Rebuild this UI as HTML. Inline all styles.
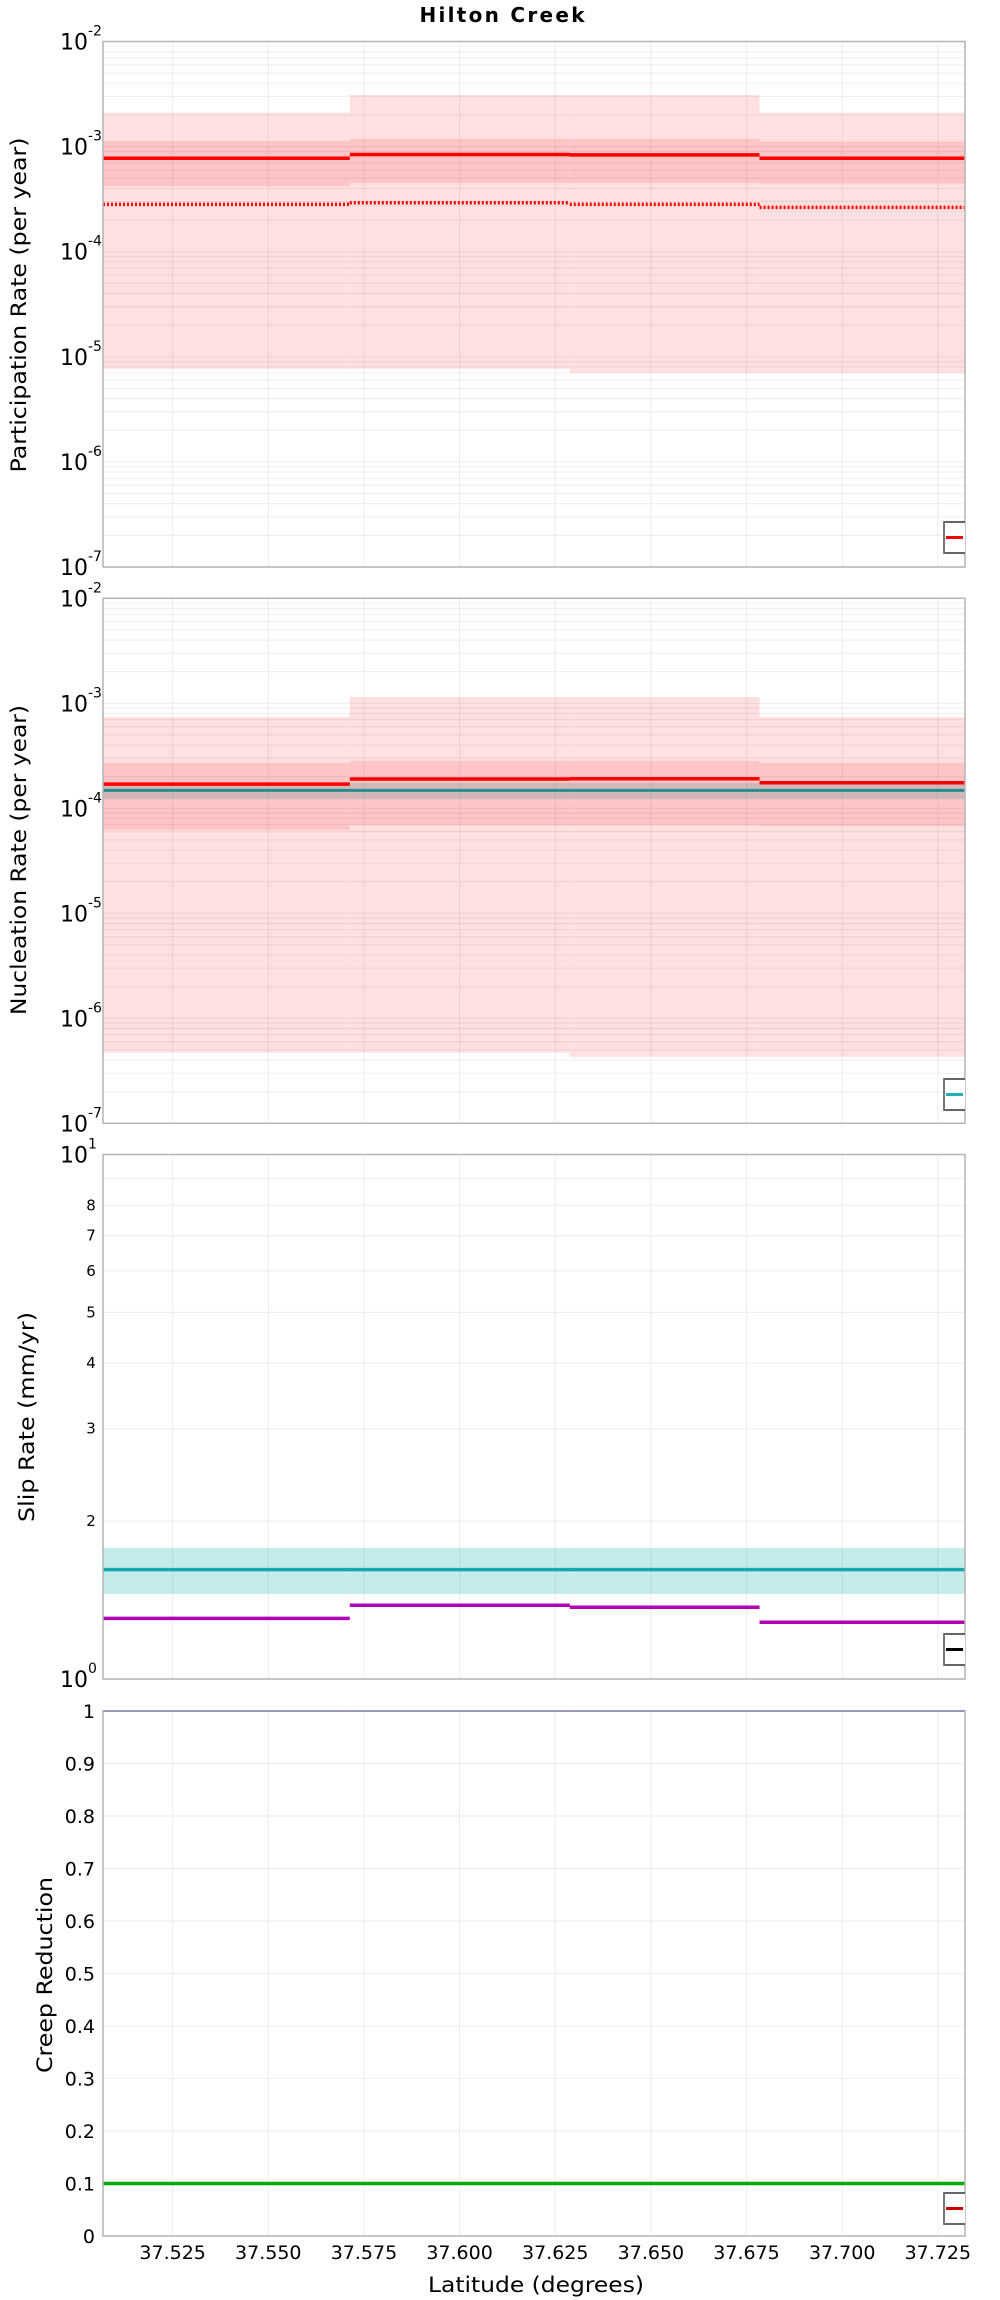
<!DOCTYPE html>
<html><head><meta charset="utf-8"><title>Hilton Creek</title>
<style>html,body{margin:0;padding:0;background:#fff}svg{display:block}text{font-family:"DejaVu Sans","Liberation Sans",sans-serif;fill:#000}</style>
</head><body>
<svg id="chart" width="1000" height="2300" viewBox="0 0 1000 2300" xmlns="http://www.w3.org/2000/svg">
<defs><clipPath id="plotclip"><rect x="0" y="0" width="965" height="2300"/></clipPath></defs>
<text x="502" y="22" text-anchor="middle" font-size="20" font-weight="bold" textLength="165">Hilton Creek</text>
</svg>
<script>
// ---- data ----
const segEdges = [37.5068, 37.5713, 37.6288, 37.6784, 37.7321];
const xTicks = [37.525, 37.550, 37.575, 37.600, 37.625, 37.650, 37.675, 37.700, 37.725];
const xTickLabels = ["37.525","37.550","37.575","37.600","37.625","37.650","37.675","37.700","37.725"];
// participation
const partOuterHi = [2.1e-3, 3.1e-3, 3.1e-3, 2.1e-3];
const partOuterLo = [7.7e-6, 7.7e-6, 7.0e-6, 7.0e-6];
const partInnerHi = [1.13e-3, 1.18e-3, 1.18e-3, 1.12e-3];
const partInnerLo = [4.2e-4, 4.5e-4, 4.5e-4, 4.45e-4];
const partMean = [7.75e-4, 8.4e-4, 8.35e-4, 7.75e-4];
const partDotted = [2.82e-4, 2.92e-4, 2.82e-4, 2.64e-4];
// nucleation
const nucOuterHi = [7.4e-4, 1.15e-3, 1.15e-3, 7.4e-4];
const nucOuterLo = [4.7e-7, 4.7e-7, 4.3e-7, 4.3e-7];
const nucInnerHi = [2.7e-4, 2.83e-4, 2.83e-4, 2.7e-4];
const nucInnerLo = [6.2e-5, 6.9e-5, 6.9e-5, 6.8e-5];
const nucMean = [1.7e-4, 1.9e-4, 1.91e-4, 1.75e-4];
const nucTarget = [1.48e-4, 1.48e-4, 1.48e-4, 1.48e-4];
const nucTargetHi = [1.74e-4, 1.74e-4, 1.74e-4, 1.74e-4];
const nucTargetLo = [1.22e-4, 1.22e-4, 1.22e-4, 1.22e-4];
// slip
const slipTarget = [1.616, 1.616, 1.616, 1.616];
const slipTargetHi = [1.778, 1.778, 1.778, 1.778];
const slipTargetLo = [1.453, 1.453, 1.453, 1.453];
const slipSolution = [1.305, 1.382, 1.370, 1.283];
const slipTickVals = [2,3,4,5,6,7,8];
// creep
const creepOne = [1, 1, 1, 1];
const creepGreen = [0.1, 0.1, 0.1, 0.1];
const creepTicks = [0,0.1,0.2,0.3,0.4,0.5,0.6,0.7,0.8,0.9,1];
const creepTickLabels = ["0","0.1","0.2","0.3","0.4","0.5","0.6","0.7","0.8","0.9","1"];

const NS = "http://www.w3.org/2000/svg";
const svg = document.getElementById('chart');
const L = 103, R = 965;
const xmin = segEdges[0], xmax = segEdges[segEdges.length-1];
function xs(v){ return L + (v - xmin) / (xmax - xmin) * (R - L); }
function mk(tag, attrs, parent){ const e = document.createElementNS(NS, tag); for (const k in attrs) e.setAttribute(k, attrs[k]); (parent||svg).appendChild(e); return e; }

function logScale(top, bot, lo, hi){ return v => bot - (Math.log10(v) - lo) / (hi - lo) * (bot - top); }
function linScale(top, bot, lo, hi){ return v => bot - (v - lo) / (hi - lo) * (bot - top); }

function band(g, ys, his, los, fill, name){
  for (let i = 0; i < 4; i++){
    const y1 = ys(his[i]), y2 = ys(los[i]);
    const r = mk('rect', {x: xs(segEdges[i]), y: y1, width: xs(segEdges[i+1]) - xs(segEdges[i]), height: y2 - y1, fill: fill}, g);
    
    
  }
}
function steps(g, ys, vals, color, w, dash, name){
  let d = '';
  for (let i = 0; i < 4; i++){
    const y = ys(vals[i]);
    d += 'M' + xs(segEdges[i]) + ' ' + y + ' L' + xs(segEdges[i+1]) + ' ' + y + ' ';
  }
  const p = mk('path', {d: d, stroke: color, 'stroke-width': w, fill: 'none'}, g);
  if (dash) p.setAttribute('stroke-dasharray', dash);
  
  
}
function vgrid(g, top, bot){
  xTicks.forEach(t => { mk('line', {x1: xs(t), x2: xs(t), y1: top, y2: bot, stroke: 'rgba(0,0,0,0.07)', 'stroke-width': 1}, g); });
}
function frame(g, top, bot){
  mk('rect', {x: L, y: top, width: R - L, height: bot - top, fill: 'none', stroke: '#b4b4b4', 'stroke-width': 1.5}, g);
}
function legend(g, y, color, name){
  const lg = mk('g', {'clip-path': 'url(#plotclip)'}, g);
  
  
  mk('rect', {x: 944, y: y, width: 30, height: 31, fill: '#fff', stroke: '#333', 'stroke-width': 1.5}, lg);
  mk('line', {x1: 944, x2: 944, y1: y, y2: y + 31, stroke: '#777', 'stroke-width': 2}, lg);
  mk('line', {x1: 946, x2: 963, y1: y + 15.5, y2: y + 15.5, stroke: color, 'stroke-width': 3}, lg);
}
function ytitle(g, x, cy, text, len, name){
  const t = mk('text', {x: x, y: cy, transform: 'rotate(-90 ' + x + ' ' + cy + ')', 'text-anchor': 'middle', 'font-size': 21, textLength: len, lengthAdjust: 'spacingAndGlyphs'}, g);
  t.textContent = text;
  
  
}
function logPanel(top, bot, lo, hi, name){
  const g = mk('g', {});
  
  
  const ys = logScale(top, bot, lo, hi);
  return {g, ys};
}
function logGrid(g, ys, lo, hi, top, bot){
  for (let e = lo; e < hi; e++){
    for (let m = 1; m <= 9; m++){
      const y = ys(m * Math.pow(10, e));
      mk('line', {x1: L, x2: R, y1: y, y2: y, stroke: 'rgba(0,0,0,0.06)', 'stroke-width': 1.2}, g);
    }
  }
  vgrid(g, top, bot);
}
function logLabels(g, ys, lo, hi){
  for (let e = lo; e <= hi; e++){
    const y = ys(Math.pow(10, e));
    const t = mk('text', {x: 60, y: y + 8, 'font-size': 22}, g);
    t.textContent = '10';
    
    
    const s = mk('text', {x: 88, y: y - 6, 'font-size': 14}, g);
    s.textContent = String(e);
    
    
  }
}

// Panel 1: participation
(function(){
  const top = 41.5, bot = 567;
  const {g, ys} = logPanel(top, bot, -7, -2, 'participation-panel');
  band(g, ys, partOuterHi, partOuterLo, '#fee0e0', 'participation-outer-band');
  band(g, ys, partInnerHi, partInnerLo, '#fdc5c5', 'participation-inner-band');
  logGrid(g, ys, -7, -2, top, bot);
  steps(g, ys, partMean, '#ff0000', 3.5, null, 'participation-mean-line');
  steps(g, ys, partDotted, '#ff0000', 3.5, '2 2', 'participation-dotted-line');
  frame(g, top, bot);
  logLabels(g, ys, -7, -2);
  ytitle(g, 26, 305, 'Participation Rate (per year)', 335, 'participation-y-title');
  legend(g, 522, '#ff0000', 'participation-legend');
})();

// Panel 2: nucleation
(function(){
  const top = 598.3, bot = 1123.3;
  const {g, ys} = logPanel(top, bot, -7, -2, 'nucleation-panel');
  band(g, ys, nucOuterHi, nucOuterLo, '#fee0e0', 'nucleation-outer-band');
  band(g, ys, nucInnerHi, nucInnerLo, '#fdc5c5', 'nucleation-inner-band');
  band(g, ys, nucTargetHi, nucTargetLo, '#d0b8b8', 'nucleation-target-band');
  logGrid(g, ys, -7, -2, top, bot);
  steps(g, ys, nucMean, '#ff0000', 3.5, null, 'nucleation-mean-line');
  steps(g, ys, nucTarget, '#2a8d8d', 3, null, 'nucleation-target-line');
  frame(g, top, bot);
  logLabels(g, ys, -7, -2);
  ytitle(g, 26, 860, 'Nucleation Rate (per year)', 310, 'nucleation-y-title');
  legend(g, 1079, '#20b2b2', 'nucleation-legend');
})();

// Panel 3: slip rate
(function(){
  const top = 1154.5, bot = 1679;
  const {g, ys} = logPanel(top, bot, 0, 1, 'slip-rate-panel');
  band(g, ys, slipTargetHi, slipTargetLo, '#c3eceb', 'slip-target-band');
  logGrid(g, ys, 0, 1, top, bot);
  steps(g, ys, slipTarget, '#1aa9a9', 3.5, null, 'slip-target-line');
  steps(g, ys, slipSolution, '#b400b4', 3.5, null, 'slip-solution-line');
  frame(g, top, bot);
  logLabels(g, ys, 0, 1);
  slipTickVals.forEach(v => {
    const t = mk('text', {x: 91, y: ys(v) + 5, 'font-size': 15, 'text-anchor': 'middle'}, g);
    t.textContent = String(v);
    
    
  });
  ytitle(g, 34, 1417, 'Slip Rate (mm/yr)', 210, 'slip-y-title');
  legend(g, 1634, '#000000', 'slip-legend');
})();

// Panel 4: creep reduction
(function(){
  const top = 1711, bot = 2236;
  const g = mk('g', {});
  
  
  const ys = linScale(top, bot, 0, 1);
  creepTicks.forEach(v => { mk('line', {x1: L, x2: R, y1: ys(v), y2: ys(v), stroke: 'rgba(0,0,0,0.06)', 'stroke-width': 1.2}, g); });
  vgrid(g, top, bot);
  steps(g, ys, creepOne, '#4444cc', 2, null, 'creep-one-line');
  steps(g, ys, creepGreen, '#00aa00', 3.5, null, 'creep-green-line');
  frame(g, top, bot);
  creepTicks.forEach((v, i) => {
    const t = mk('text', {x: 95, y: ys(v) + 7, 'font-size': 19, 'text-anchor': 'end'}, g);
    t.textContent = creepTickLabels[i];
    
    
  });
  ytitle(g, 52, 1975, 'Creep Reduction', 196, 'creep-y-title');
  legend(g, 2193, '#cc0000', 'creep-legend');
  xTicks.forEach((v, i) => {
    const t = mk('text', {x: xs(v), y: 2259, 'font-size': 19, 'text-anchor': 'middle'}, g);
    t.textContent = xTickLabels[i];
    
    
  });
  const xt = mk('text', {x: 536, y: 2292, 'font-size': 21, 'text-anchor': 'middle', textLength: 216, lengthAdjust: 'spacingAndGlyphs'}, g);
  xt.textContent = 'Latitude (degrees)';
  
  
})();
</script>
</body></html>
